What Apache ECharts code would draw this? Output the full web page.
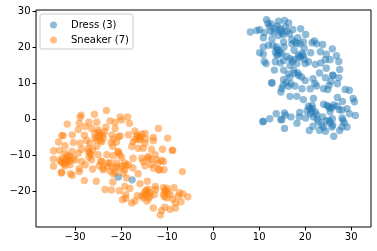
<!DOCTYPE html>
<html><head><meta charset="utf-8">
<style>html,body{margin:0;padding:0;background:#fff}#c{width:377px;height:251px}</style>
<script src="https://cdn.jsdelivr.net/npm/echarts@6/dist/echarts.min.js"></script>
</head><body><div id="c"></div>
<script>
const xTicks=[-30,-20,-10,0,10,20,30];
const yTicks=[-20,-10,0,10,20,30];
const seriesNames=['Dress (3)','Sneaker (7)'];
const dress=[[11.6,27.6],[11.9,26.6],[12.2,25.7],[14.2,27.2],[15.5,27.4],[16.4,26.7],[8.1,24.2],[9.5,24.6],[10.1,24.8],[11.1,24.0],[10.9,22.6],[12.5,24.4],[13.5,25.1],[14.6,25.1],[15.7,25.5],[17.3,24.9],[19.0,25.1],[20.1,23.5],[18.4,22.6],[16.6,23.7],[15.3,23.5],[14.2,23.2],[12.8,22.3],[12.0,20.5],[10.9,20.0],[10.1,18.4],[10.9,18.0],[13.0,20.5],[13.8,20.0],[15.3,21.4],[15.4,20.0],[17.1,20.9],[17.8,21.4],[19.6,21.4],[18.9,20.9],[19.8,19.7],[21.5,21.2],[22.0,21.7],[22.5,20.9],[23.8,20.7],[25.9,19.5],[23.3,18.7],[24.6,18.0],[26.8,17.6],[21.2,18.4],[19.3,18.2],[17.6,19.1],[14.2,19.1],[13.5,18.6],[13.8,17.7],[14.9,18.2],[16.7,16.8],[18.6,17.2],[19.6,17.7],[17.5,16.5],[18.2,15.4],[20.0,15.4],[20.7,15.9],[22.2,15.2],[23.4,15.6],[24.4,16.5],[25.4,16.5],[27.3,16.0],[11.1,16.0],[11.5,15.4],[13.5,15.9],[14.6,15.6],[15.3,16.3],[13.3,13.6],[15.3,13.6],[16.7,14.9],[17.5,13.6],[18.4,12.8],[23.1,12.8],[24.6,14.1],[27.5,13.8],[26.0,12.2],[14.6,24.6],[12.8,10.0],[12.7,10.1],[15.3,11.0],[16.7,11.7],[18.6,12.1],[20.0,10.7],[21.7,11.2],[24.4,11.5],[26.0,12.1],[27.3,11.5],[27.0,9.8],[15.2,9.4],[16.4,9.1],[17.8,9.2],[19.3,8.4],[21.1,8.4],[22.5,9.2],[24.0,8.4],[25.2,9.4],[24.9,8.2],[28.7,8.2],[29.6,8.0],[14.7,7.5],[16.7,6.3],[18.2,6.3],[19.6,5.4],[21.8,5.7],[20.7,3.6],[21.5,3.8],[24.0,4.1],[24.7,3.8],[27.0,6.0],[28.1,4.9],[26.9,3.6],[25.8,3.2],[25.4,2.0],[29.1,2.9],[30.4,5.7],[30.7,4.8],[29.6,1.5],[30.9,1.0],[28.0,2.5],[10.9,-0.7],[10.8,-0.7],[12.3,0.1],[13.7,1.5],[15.5,1.7],[15.7,1.1],[14.7,-0.1],[16.9,0.6],[18.8,1.8],[18.7,0.6],[20.1,0.3],[21.1,1.5],[22.2,2.0],[21.8,0.6],[23.8,0.6],[22.9,-0.8],[25.4,-1.0],[25.9,0.1],[28.0,0.3],[28.5,-1.0],[29.1,-2.2],[28.0,-2.2],[18.2,-1.2],[15.5,-2.6],[20.9,-3.2],[21.7,-2.0],[23.1,-3.1],[24.4,-3.4],[25.8,-2.2],[27.5,-3.2],[26.2,-4.8],[23.6,-1.7],[-20.6,-16.1],[-17.6,-16.9],[13.9,19.3],[14.5,18.5],[14.1,17.9],[18.5,17.8],[19.0,17.3],[19.8,16.6],[17.2,15.9],[13.9,25.9],[13.2,24.2],[14.9,23.9],[16.0,24.4],[12.6,26.4],[17.1,22.1],[18.2,21.0],[16.0,17.4],[16.3,12.5],[17.7,12.7],[19.2,11.7],[15.9,10.2],[16.9,9.8],[14.9,8.5],[22.1,9.9],[25.6,10.5],[21.0,3.0],[21.6,2.9],[20.4,2.3],[21.4,2.1],[25.0,3.5],[26.2,3.9],[25.4,3.0],[27.4,2.6],[22.5,1.2],[24.5,-0.5],[25.2,-0.4],[26.0,-1.7],[28.2,-0.3],[24.0,-2.3],[22.6,-0.1],[14.9,-0.2]];
const sneaker=[[-23.2,2.4],[-28.7,1.1],[-28.9,0.5],[-25.8,1.3],[-31.7,-1.4],[-29.1,-1.2],[-27.0,-0.9],[-25.3,-0.9],[-23.3,-2.3],[-22.4,-0.5],[-21.3,-0.9],[-20.2,0.6],[-29.3,-2.9],[-27.8,-2.1],[-26.4,-2.6],[-25.0,-3.0],[-24.6,-4.4],[-25.7,-4.0],[-23.9,-5.3],[-32.6,-4.6],[-32.9,-4.6],[-30.6,-4.4],[-33.6,-6.4],[-32.2,-7.4],[-30.4,-6.5],[-28.9,-6.7],[-26.8,-6.7],[-25.3,-7.6],[-22.0,-4.4],[-21.8,-7.6],[-20.6,-4.9],[-34.7,-8.8],[-33.4,-8.7],[-32.2,-9.5],[-30.7,-9.0],[-28.6,-8.4],[-27.1,-8.1],[-26.8,-9.5],[-25.0,-9.9],[-23.1,-9.9],[-21.7,-10.2],[-20.7,-9.2],[-34.7,-11.1],[-33.3,-11.5],[-32.6,-12.2],[-31.5,-11.8],[-30.4,-10.9],[-28.6,-11.8],[-26.4,-11.3],[-24.4,-11.8],[-22.4,-12.2],[-34.7,-13.1],[-32.2,-13.0],[-31.1,-12.7],[-29.1,-13.8],[-27.8,-12.7],[-26.2,-13.9],[-23.9,-14.1],[-32.9,-14.8],[-31.0,-15.2],[-29.1,-14.6],[-21.1,-13.2],[-27.1,-9.0],[-31.1,-10.4],[-31.8,-10.9],[-25.7,-5.3],[-24.2,-6.3],[-19.9,-0.3],[-18.6,0.6],[-18.2,-1.2],[-21.3,-2.6],[-11.9,-2.6],[-17.0,-3.3],[-16.6,-4.4],[-14.8,-4.0],[-15.9,-4.9],[-18.4,-4.4],[-20.2,-4.7],[-21.7,-5.6],[-17.4,-6.3],[-15.9,-5.8],[-14.8,-6.7],[-13.0,-5.1],[-13.0,-6.0],[-9.9,-5.3],[-11.0,-8.4],[-8.9,-8.7],[-8.8,-8.7],[-13.4,-8.4],[-16.3,-8.1],[-17.7,-7.6],[-15.2,-8.1],[-20.6,-9.0],[-20.3,-9.9],[-19.9,-10.6],[-14.1,-10.4],[-12.6,-9.9],[-15.5,-10.9],[-17.4,-10.9],[-10.8,-11.8],[-12.3,-11.3],[-24.2,-11.8],[-22.8,-12.2],[-21.0,-12.2],[-19.2,-12.2],[-18.4,-12.7],[-17.4,-13.6],[-14.8,-13.0],[-13.0,-13.6],[-11.6,-14.1],[-10.7,-14.1],[-6.7,-14.6],[-23.9,-13.6],[-21.7,-13.6],[-20.3,-13.6],[-19.2,-14.1],[-22.4,-14.5],[-16.3,-15.2],[-19.5,-15.0],[-33.0,-15.0],[-30.6,-15.6],[-28.0,-17.1],[-25.4,-17.3],[-21.7,-15.3],[-21.8,-17.5],[-23.5,-19.6],[-22.1,-19.7],[-20.4,-19.9],[-19.2,-18.7],[-18.1,-19.3],[-19.7,-22.4],[-19.0,-21.0],[-17.7,-23.3],[-17.0,-22.8],[-15.9,-18.0],[-14.3,-17.3],[-15.5,-21.4],[-14.8,-20.1],[-14.1,-19.6],[-12.6,-18.7],[-12.8,-21.0],[-14.4,-22.8],[-13.0,-24.7],[-11.5,-26.7],[-11.2,-25.4],[-10.5,-24.5],[-9.4,-25.1],[-8.2,-24.7],[-8.2,-23.3],[-7.0,-23.0],[-10.8,-19.0],[-10.0,-19.3],[-8.5,-19.1],[-10.8,-21.0],[-9.4,-21.0],[-10.1,-21.9],[-7.6,-21.4],[-6.6,-20.8],[-5.5,-21.6],[-11.9,-14.1],[-18.8,-16.4],[-15.2,-21.9],[-13.7,-21.4],[-10.5,-20.1],[-14.4,-21.0],[-32.0,-11.2],[-31.6,-10.2],[-32.8,-10.9],[-33.0,-12.0],[-31.2,-11.6],[-30.0,-11.4],[-32.3,-12.5],[-25.0,-5.0],[-24.9,-3.7],[-25.3,-5.8],[-24.0,-4.4],[-23.6,-3.5],[-24.5,-6.0],[-26.6,-9.9],[-27.0,-10.6],[-26.2,-8.6],[-29.3,-9.5],[-16.4,-4.9],[-16.0,-5.4],[-15.5,-4.2],[-16.9,-5.7],[-14.7,-5.5],[-22.2,-6.6],[-18.9,-13.0],[-19.8,-13.0],[-21.2,-14.9],[-23.0,-13.1],[-24.8,-13.0],[-14.2,-10.9],[-13.6,-11.2],[-12.0,-12.3],[-11.2,-11.5],[-13.5,-12.6],[-15.2,-11.8],[-21.0,-6.4],[-28.0,-4.5],[-27.5,-5.9],[-14.5,-19.8],[-15.0,-20.9],[-13.8,-20.4],[-14.0,-22.0],[-10.4,-19.7],[-9.8,-20.3],[-10.6,-21.6],[-8.8,-22.2],[-16.5,-21.3],[-19.0,-22.0],[-12.5,-19.6],[-7.3,-20.5]];
const fmt=v=>String(v).replace('-','\u2212');
const axisBase=(ticks)=>({type:'value',scale:true,splitLine:{show:false},
  axisLine:{show:false,onZero:false},
  axisTick:{show:true,length:3.5,lineStyle:{color:'#000',width:1},customValues:ticks},
  axisLabel:{color:'#000',fontFamily:'DejaVu Sans',fontSize:10,margin:5.5,customValues:ticks,formatter:fmt,showMinLabel:true,showMaxLabel:true}});
const chart=echarts.init(document.getElementById('c'),null,{renderer:'canvas'});
const ser=(name,data,color)=>({name,type:'scatter',data,symbol:'circle',symbolSize:7.4,silent:true,
  itemStyle:{color,opacity:0.5,borderWidth:0}});
chart.setOption({animation:false,
  grid:{left:36,right:6,top:10,bottom:24,show:true,borderColor:'#000',borderWidth:1,backgroundColor:'#fff'},
  xAxis:Object.assign(axisBase(xTicks),{min:-38.5,max:34.3}),
  yAxis:Object.assign(axisBase(yTicks),{min:-30,max:30.3}),
  legend:{show:true,left:40,top:14,orient:'vertical',padding:[6,4,4,10],itemGap:5,itemWidth:7,itemHeight:7,
    backgroundColor:'rgba(255,255,255,0.8)',borderColor:'#ccc',borderWidth:1,borderRadius:2,
    textStyle:{color:'#000',fontFamily:'DejaVu Sans',fontSize:10,padding:[0,0,0,9]},
    data:seriesNames.map(n=>({name:n,icon:'circle'}))},
  series:[ser(seriesNames[0],dress,'#1f77b4'),ser(seriesNames[1],sneaker,'#ff7f0e')]
});
</script></body></html>
